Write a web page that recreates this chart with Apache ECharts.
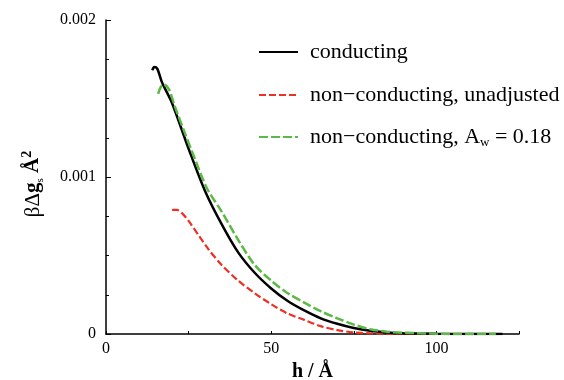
<!DOCTYPE html>
<html><head><meta charset="utf-8">
<script src="https://cdn.jsdelivr.net/npm/echarts@6/dist/echarts.min.js"></script>
<style>html,body{margin:0;padding:0;background:#fff}#c{width:564px;height:380px}</style>
</head><body><div id="c"></div>
<script>
// conducting
const hC = [14.0, 14.6, 15.5, 17, 20, 25, 30, 35, 40, 45, 50, 55, 60, 65, 70, 75, 80, 85, 90, 100, 110, 120];
const vC = [0.00168, 0.00170, 0.00169, 0.00160, 0.00147, 0.00118, 0.00091, 0.00070, 0.00052, 0.00039, 0.00029, 0.00021, 0.00015, 0.00010, 0.000065, 0.000038, 0.00002, 0.00001, 0.000005, 0.000001, 0, 0];
// non-conducting, unadjusted
const hU = [20.0, 21.5, 23, 25, 28, 31, 35, 40, 45, 50, 55, 60, 65, 70, 75, 80, 85, 90, 100, 105];
const vU = [0.00079, 0.00079, 0.00077, 0.00072, 0.00063, 0.00054, 0.00044, 0.00034, 0.00026, 0.00019, 0.00013, 0.00009, 0.00005, 0.000025, 0.00001, 0.000004, 0.000002, 0, 0, 0];
// non-conducting, Aw = 0.18
const hA = [15.8, 16.5, 17.5, 19, 21, 23.5, 27, 30.5, 35, 40, 45, 50, 55, 60, 65, 70, 75, 80, 85, 90, 100, 110, 118];
const vA = [0.00153, 0.00157, 0.00159, 0.00156, 0.00144, 0.00130, 0.00111, 0.00093, 0.00078, 0.00060, 0.00044, 0.00034, 0.00026, 0.00020, 0.000145, 0.0001, 0.00006, 0.00003, 0.000015, 0.000008, 0.000002, 0, 0];
const xTickLabels = ['0', '50', '100'];
const yTickLabels = ['0', '0.001', '0.002'];
const names = ['conducting', 'non\u2212conducting, unadjusted', 'non\u2212conducting, Aw = 0.18'];

const zip = (a, b) => a.map((x, i) => [x, b[i]]);
const FONT = 'Liberation Serif';
const chart = echarts.init(document.getElementById('c'));
const legendBase = (name, top) => ({
  data: [name], left: 258, top: top, orient: 'vertical', padding: 0,
  itemWidth: 39, itemHeight: 14, selectedMode: false,
  itemStyle: {opacity: 0, borderWidth: 0},
  textStyle: {fontFamily: FONT, fontSize: 22, color: '#000', lineHeight: 24, padding: [0, 0, 0, 7],
    rich: {n: {fontFamily: FONT, fontSize: 22, color: '#000', lineHeight: 24},
           sub: {fontFamily: FONT, fontSize: 13, color: '#000', lineHeight: 13, verticalAlign: 'bottom'}}},
});
const l3 = legendBase(names[2], 125);
l3.formatter = () => '{n|non\u2212conducting, A}{sub|w}{n| = 0.18}';
chart.setOption({
  animation: false,
  grid: {left: 106, right: 45, top: 20, bottom: 46, containLabel: false, outerBoundsMode: 'none'},
  legend: [legendBase(names[0], 40), legendBase(names[1], 83), l3],
  xAxis: {
    type: 'value', min: 0, max: 125, interval: 25,
    name: 'h / \u00c5', nameLocation: 'middle', nameGap: 23,
    nameTextStyle: {fontFamily: FONT, fontSize: 20, fontWeight: 'bold', color: '#000'},
    axisLine: {lineStyle: {color: '#000', width: 1.5}},
    axisTick: {inside: true, length: 3, lineStyle: {color: '#000', width: 1}},
    axisLabel: {fontFamily: FONT, fontSize: 16, color: '#000', margin: 7,
      formatter: v => xTickLabels.includes(String(v)) ? String(v) : ''},
    splitLine: {show: false}
  },
  yAxis: {
    type: 'value', min: 0, max: 0.002, interval: 0.001,
    name: '{n|\u03b2\u0394}{b|g}{s|s}{n| }{b|\u00c5}{sup|2}', nameLocation: 'middle', nameGap: 60,
    nameTextStyle: {fontFamily: FONT, fontSize: 21, color: '#000', padding: [0, 14, 0, 0],
      rich: {n: {fontFamily: FONT, fontSize: 21, color: '#000', lineHeight: 26},
             b: {fontFamily: FONT, fontSize: 21, fontWeight: 'bold', color: '#000', lineHeight: 26},
             s: {fontFamily: FONT, fontSize: 11, color: '#000', lineHeight: 12, verticalAlign: 'bottom'},
             sup: {fontFamily: FONT, fontSize: 14, fontWeight: 'bold', color: '#000', lineHeight: 14, verticalAlign: 'top'}}},
    axisLine: {show: true, lineStyle: {color: '#000', width: 1.5}},
    axisTick: {show: true, inside: true, length: 5, lineStyle: {color: '#000', width: 1}},
    minorTick: {show: true, splitNumber: 4, length: 3, lineStyle: {color: '#000', width: 1}},
    axisLabel: {fontFamily: FONT, fontSize: 16, color: '#000', margin: 10,
      formatter: (v, i) => yTickLabels[i] !== undefined ? yTickLabels[i] : ''},
    splitLine: {show: false}
  },
  series: [
    {name: names[0], type: 'line', data: zip(hC, vC), smooth: 0.3, showSymbol: false, symbol: 'none',
     lineStyle: {color: '#000', width: 2.5}, itemStyle: {color: '#000'}, z: 3},
    {name: names[1], type: 'line', data: zip(hU, vU), smooth: 0.3, showSymbol: false, symbol: 'none',
     lineStyle: {color: '#ec3025', width: 2.2, type: [7, 3]}, itemStyle: {color: '#ec3025'}, z: 2},
    {name: names[2], type: 'line', data: zip(hA, vA), smooth: 0.3, showSymbol: false, symbol: 'none',
     lineStyle: {color: '#5cb947', width: 2.5, type: [9, 3]}, itemStyle: {color: '#5cb947'}, z: 4}
  ]
});
</script></body></html>
